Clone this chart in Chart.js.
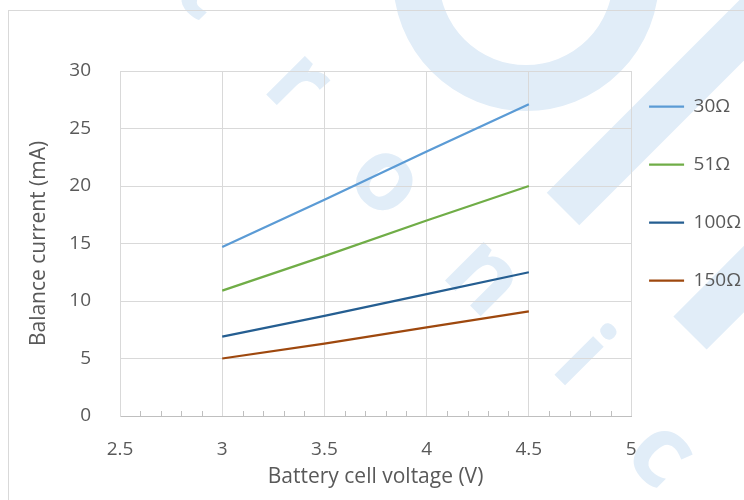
<!DOCTYPE html>
<html>
<head>
<meta charset="utf-8">
<script src="https://cdn.jsdelivr.net/npm/chart.js@4.4.0/dist/chart.umd.min.js"></script>
<style>
  html, body { margin: 0; padding: 0; background: #fff; }
</style>
</head>
<body>
<canvas id="graph_current" width="744" height="500"></canvas>
<script>
// values
var voltage = [3, 3.5, 4, 4.5];
var current_30 = [14.7, 18.8, 23.0, 27.1];
var current_51 = [10.9, 13.9, 17.0, 20.0];
var current_100 = [6.9, 8.7, 10.6, 12.5];
var current_150 = [5.0, 6.3, 7.7, 9.1];
var series_names = ['30Ω', '51Ω', '100Ω', '150Ω'];
var x_labels = [2.5, 3, 3.5, 4, 4.5, 5];

var colors = ['#5B9BD5', '#70AD47', '#255E91', '#9E480E'];
var all_series = [current_30, current_51, current_100, current_150];

function isLabeled(v) {
    for (var i = 0; i < x_labels.length; i++) {
        if (Math.abs(x_labels[i] - v) < 1e-6) return true;
    }
    return false;
}

var datasets = [];
for (var s = 0; s < all_series.length; s++) {
    var pts = [];
    for (var i = 0; i < voltage.length; i++) {
        pts.push({ x: voltage[i], y: all_series[s][i] });
    }
    datasets.push({
        label: series_names[s],
        data: pts,
        borderColor: colors[s],
        backgroundColor: colors[s],
        borderWidth: 2.25,
        pointRadius: 0,
        tension: 0,
        fill: false
    });
}

var wm = '#e1edf8';

// background watermark + outer chart border
var watermark = {
    id: 'watermark',
    beforeDraw: function(chart) {
        var ctx = chart.ctx;
        ctx.save();
        ctx.strokeStyle = wm;
        ctx.lineCap = 'butt';
        ctx.lineWidth = 46;
        ctx.beginPath();
        ctx.arc(526, -22, 110, 0, Math.PI * 2);
        ctx.stroke();
        ctx.beginPath();
        ctx.moveTo(563, 209);
        ctx.lineTo(830, -58);
        ctx.stroke();
        ctx.lineWidth = 47;
        ctx.beginPath();
        ctx.moveTo(690, 333);
        ctx.lineTo(900, 123);
        ctx.stroke();

        ctx.fillStyle = wm;
        ctx.font = 'bold 100px "Open Sans"';
        ctx.textAlign = 'center';
        ctx.textBaseline = 'middle';
        var letters = [['t', 205, -12], ['r', 297, 85], ['o', 385, 181], ['n', 483, 278], ['i', 580, 360], ['c', 660, 455]];
        for (var i = 0; i < letters.length; i++) {
            ctx.save();
            ctx.translate(letters[i][1], letters[i][2]);
            ctx.rotate(Math.PI / 4);
            ctx.fillText(letters[i][0], 0, 0);
            ctx.restore();
        }

        ctx.strokeStyle = '#d9d9d9';
        ctx.lineWidth = 1;
        ctx.strokeRect(8.5, 10.5, 900, 700);
        ctx.restore();
    }
};

// small inward tick marks on the x axis
var minorTicks = {
    id: 'minorTicks',
    afterDraw: function(chart) {
        var xs = chart.scales.x;
        var bottom = chart.chartArea.bottom;
        var ctx = chart.ctx;
        ctx.save();
        ctx.strokeStyle = '#bfbfbf';
        ctx.lineWidth = 1;
        xs.ticks.forEach(function(t) {
            if (isLabeled(t.value)) return;
            var px = Math.round(xs.getPixelForValue(t.value)) + 0.5;
            ctx.beginPath();
            ctx.moveTo(px, bottom);
            ctx.lineTo(px, bottom - 5);
            ctx.stroke();
        });
        ctx.restore();
    }
};

// pull the legend a bit closer to the plot than its padding allows
var legendShift = {
    id: 'legendShift',
    afterLayout: function(chart) {
        chart.legend.left -= 21;
        chart.legend.right -= 21;
        chart.legend.top -= 13;
        chart.legend.bottom -= 13;
    }
};

Chart.defaults.font.family = '"Open Sans", sans-serif';
Chart.defaults.font.size = 19;
Chart.defaults.color = '#595959';

var ctx_current = document.getElementById('graph_current').getContext('2d');

var myLineChart_current = new Chart(ctx_current, {
    type: 'line',
    data: { datasets: datasets },
    plugins: [watermark, minorTicks, legendShift],
    options: {
        responsive: false,
        animation: false,
        layout: { padding: { top: 71, left: 22, right: -28, bottom: 0 } },
        plugins: {
            tooltip: { enabled: false },
            legend: {
                position: 'right',
                align: 'start',
                labels: {
                    usePointStyle: true,
                    pointStyle: 'line',
                    pointStyleWidth: 35,
                    padding: 39,
                    color: '#595959',
                    font: { size: 19 }
                }
            }
        },
        scales: {
            x: {
                type: 'linear',
                min: 2.5,
                max: 5,
                afterFit: function(scale) { scale.height = 84; },
                ticks: {
                    stepSize: 0.1,
                    autoSkip: false,
                    maxRotation: 0,
                    padding: 22,
                    callback: function(v) { return isLabeled(v) ? String(Math.round(v * 10) / 10) : ''; }
                },
                grid: {
                    drawTicks: false,
                    color: function(c) { return isLabeled(c.tick.value) ? '#d9d9d9' : 'rgba(0,0,0,0)'; }
                },
                border: { color: '#bfbfbf' },
                title: {
                    display: true,
                    text: 'Battery cell voltage (V)',
                    padding: { top: 4, bottom: 10 },
                    font: { size: 21 }
                }
            },
            y: {
                min: 0,
                max: 30,
                afterFit: function(scale) { scale.width = 98; },
                ticks: { stepSize: 5, padding: 29 },
                grid: { drawTicks: false, color: '#d9d9d9' },
                border: { color: '#d9d9d9' },
                title: {
                    display: true,
                    text: 'Balance current (mA)',
                    padding: { top: 4, bottom: 4 },
                    font: { size: 21 }
                }
            }
        }
    }
});
</script>
</body>
</html>
